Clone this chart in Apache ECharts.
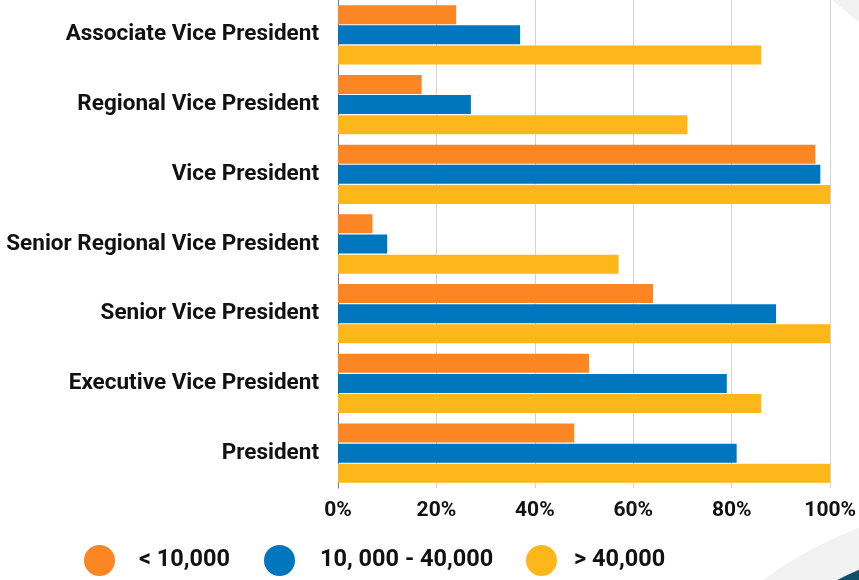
<!DOCTYPE html>
<html>
<head>
<meta charset="utf-8">
<script src="https://cdn.jsdelivr.net/npm/echarts@6/dist/echarts.min.js"></script>
<style>html,body{margin:0;padding:0;background:#fff;overflow:hidden;}#chart{width:859px;height:580px;}</style>
</head>
<body>
<div id="chart"></div>
<script>
const categories = ['Associate Vice President','Regional Vice President','Vice President','Senior Regional Vice President','Senior Vice President','Executive Vice President','President'];
const seriesNames = ['< 10,000','10, 000 - 40,000','> 40,000'];
const under10k = [24,17,97,7,64,51,48];
const mid10to40k = [37,27,98,10,89,79,81];
const over40k = [86,71,100,57,100,86,100];
const xTicks = [0,20,40,60,80,100];
const colors = ['#FC8524','#0076BE','#FDB71B'];

const chart = echarts.init(document.getElementById('chart'));
const font = 'Roboto';
const mk = (name, data, color) => ({
  name, type:'bar', data, barWidth:19, barGap:'6%',
  itemStyle:{color}, emphasis:{disabled:true}
});
const legendPos = [[84,19],[264,20],[526,12]];
const legends = seriesNames.map((n,i)=>({
  data:[n], top:545, left:legendPos[i][0], padding:0, icon:'circle', itemWidth:31, itemHeight:31,
  textStyle:{fontFamily:font, fontWeight:'bold', fontSize:23.5, color:'#111', padding:[0,0,0,legendPos[i][1]]}
}));
chart.setOption({
  animation:false,
  graphic:[
    {type:'circle', shape:{cx:1000, cy:900, r:398}, style:{fill:'#f2f2f2'}, z:-10},
    {type:'circle', shape:{cx:1000, cy:900, r:359}, style:{fill:'#0f4f68'}, z:-9},
    {type:'polygon', shape:{points:[[832,0],[859,0],[859,22]]}, style:{fill:'#f2f2f2'}, z:-10}
  ],
  grid:{left:338, right:21, top:-2, bottom:92, containLabel:false},
  legend:legends,
  xAxis:{
    type:'value', min:0, max:100, interval:20,
    axisLabel:{formatter:v=>v+'%', fontFamily:font, fontWeight:'bold', fontSize:21, color:'#111', margin:12},
    splitLine:{lineStyle:{color:'#d4d4d4', width:1}},
    axisLine:{show:false}, axisTick:{show:false}
  },
  yAxis:{
    type:'category', data:categories, inverse:true,
    axisLabel:{fontFamily:font, fontWeight:'bold', fontSize:22.5, color:'#111', margin:19},
    axisLine:{show:true, lineStyle:{color:'#777', width:1}}, axisTick:{show:false}
  },
  series:[mk(seriesNames[0], under10k, colors[0]), mk(seriesNames[1], mid10to40k, colors[1]), mk(seriesNames[2], over40k, colors[2])]
});
</script>
</body>
</html>
